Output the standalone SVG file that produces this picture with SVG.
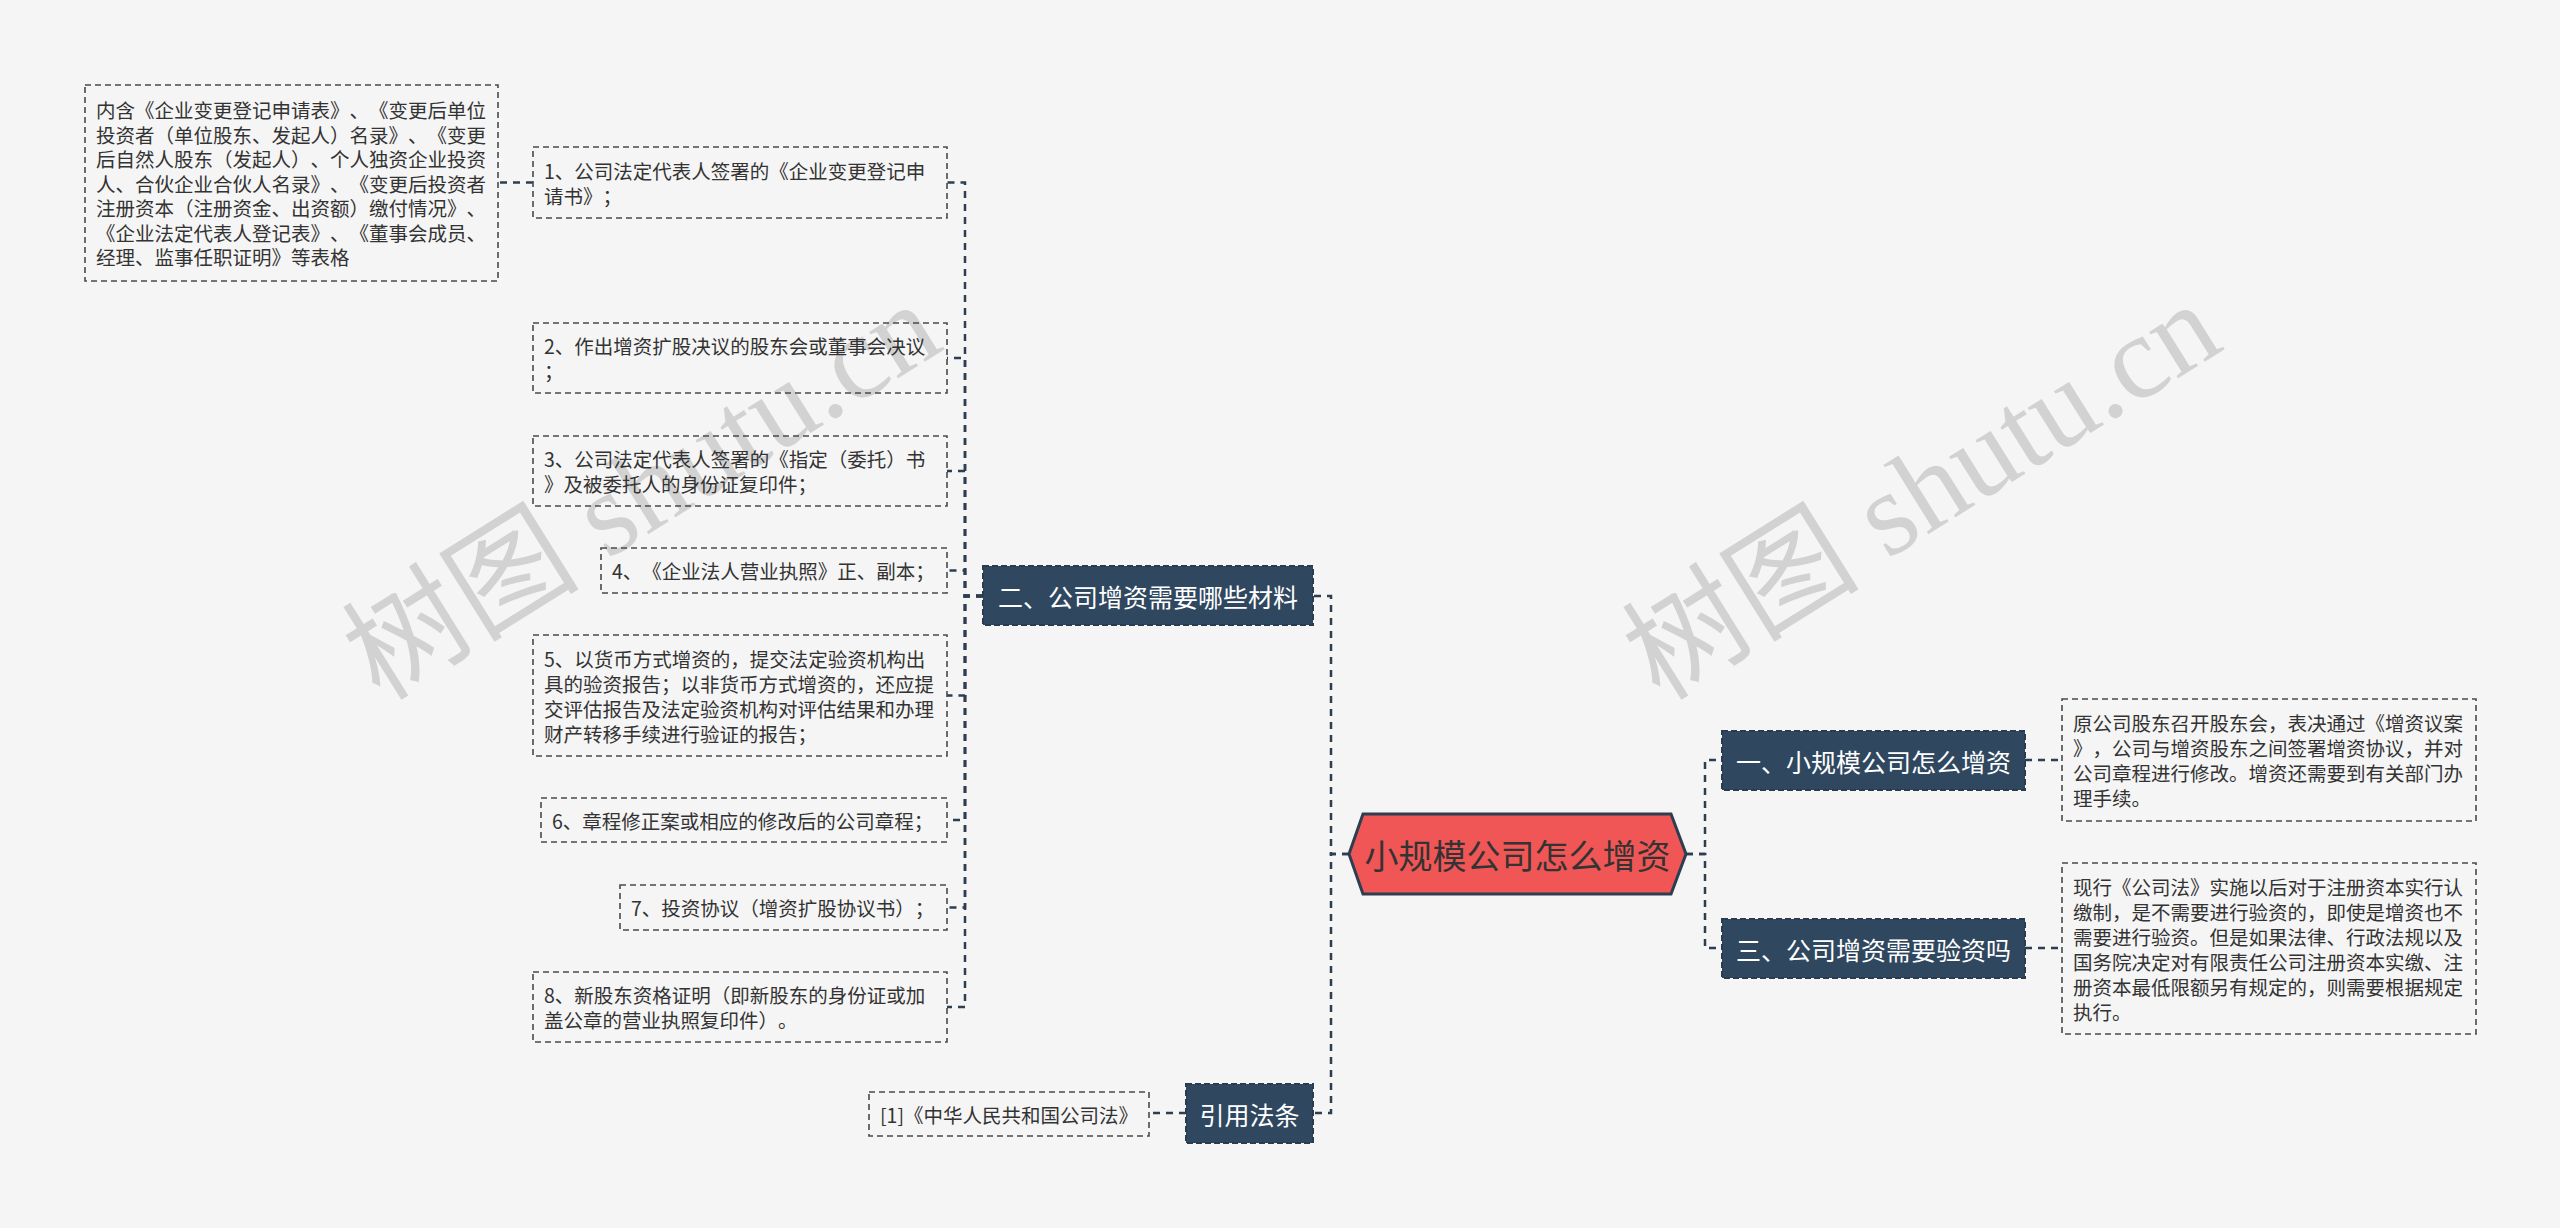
<svg xmlns="http://www.w3.org/2000/svg" width="2560" height="1228" viewBox="0 0 2560 1228">
<style>
text{text-spacing-trim:space-all;font-feature-settings:"chws" 0,"halt" 0,"palt" 0}
.wm{font-family:"Liberation Serif","Noto Sans CJK SC",serif;font-size:119px;fill:#d2d2d2}
.t{font-family:"Noto Sans CJK SC","Noto Sans",sans-serif;font-size:19.5px;fill:#333;dominant-baseline:central}
.tb{fill:none;stroke:#4a4a4a;stroke-width:1.6;stroke-dasharray:6 4}
.sb{fill:#2f4860;stroke:#2a3c4f;stroke-width:2;stroke-dasharray:6 3}
.st{font-family:"Noto Sans CJK SC","Noto Sans",sans-serif;font-size:25px;fill:#fff;text-anchor:middle;dominant-baseline:central}
.rt{font-family:"Noto Sans CJK SC","Noto Sans",sans-serif;font-size:34px;fill:#333;text-anchor:middle;dominant-baseline:central}
.c{fill:none;stroke:#2c3e50;stroke-width:2.5;stroke-dasharray:7 6}
</style>
<rect width="2560" height="1228" fill="#f5f5f5"/>
<g id="watermarks">
<text class="wm" x="380" y="702" transform="rotate(-32 380 702)">树图 shutu.cn</text>
<text class="wm" x="1660" y="702" transform="rotate(-32 1660 702)">树图 shutu.cn</text>
</g>
<g id="connectors">
<path class="c" d="M1349,854 H1331 V596 H1313"/>
<path class="c" d="M1349,854 H1331 V1113 H1313"/>
<path class="c" d="M1686,854 H1705 V760 H1722"/>
<path class="c" d="M1686,854 H1705 V948 H1722"/>
<path class="c" d="M2025,760 H2062"/>
<path class="c" d="M2025,948 H2062"/>
<path class="c" d="M1186,1113 H1149"/>
<path class="c" d="M983,596 H965 V182.5 H947"/>
<path class="c" d="M983,596 H965 V358 H947"/>
<path class="c" d="M983,596 H965 V471 H947"/>
<path class="c" d="M983,596 H965 V570.5 H947"/>
<path class="c" d="M983,596 H965 V695.5 H947"/>
<path class="c" d="M983,596 H965 V820 H947"/>
<path class="c" d="M983,596 H965 V907.5 H947"/>
<path class="c" d="M983,596 H965 V1007 H947"/>
<path class="c" d="M533,182.5 H498"/>
</g>
<g id="root">
<polygon points="1349,854 1363,814 1671,814 1686,854 1671,894 1363,894" fill="#f05656" stroke="#2c3e50" stroke-width="3"/>
<text class="rt" x="1517.5" y="854">小规模公司怎么增资</text>
</g>
<g id="n2">
<rect class="sb" x="983" y="566" width="330" height="59"/>
<text class="st" x="1148" y="595.5">二、公司增资需要哪些材料</text>
</g>
<g id="nref">
<rect class="sb" x="1186" y="1084" width="127" height="59"/>
<text class="st" x="1249.5" y="1113.5">引用法条</text>
</g>
<g id="n1">
<rect class="sb" x="1722" y="731" width="303" height="59"/>
<text class="st" x="1873.5" y="760.5">一、小规模公司怎么增资</text>
</g>
<g id="n3">
<rect class="sb" x="1722" y="919" width="303" height="59"/>
<text class="st" x="1873.5" y="948.5">三、公司增资需要验资吗</text>
</g>
<g id="r1">
<rect class="tb" x="2062" y="699" width="414" height="122"/>
<text class="t" x="2073" y="722.5">原公司股东召开股东会，表决通过《增资议案</text>
<text class="t" x="2073" y="747.5">》，公司与增资股东之间签署增资协议，并对</text>
<text class="t" x="2073" y="772.5">公司章程进行修改。增资还需要到有关部门办</text>
<text class="t" x="2073" y="797.5">理手续。</text>
</g>
<g id="r2">
<rect class="tb" x="2062" y="863" width="414" height="171"/>
<text class="t" x="2073" y="886">现行《公司法》实施以后对于注册资本实行认</text>
<text class="t" x="2073" y="911">缴制，是不需要进行验资的，即使是增资也不</text>
<text class="t" x="2073" y="936">需要进行验资。但是如果法律、行政法规以及</text>
<text class="t" x="2073" y="961">国务院决定对有限责任公司注册资本实缴、注</text>
<text class="t" x="2073" y="986">册资本最低限额另有规定的，则需要根据规定</text>
<text class="t" x="2073" y="1011">执行。</text>
</g>
<g id="ref1">
<rect class="tb" x="869" y="1092" width="280" height="44"/>
<text class="t" x="880" y="1114">[1]《中华人民共和国公司法》</text>
</g>
<g id="i1">
<rect class="tb" x="533" y="147" width="414" height="71"/>
<text class="t" x="544" y="170">1、公司法定代表人签署的《企业变更登记申</text>
<text class="t" x="544" y="195">请书》；</text>
</g>
<g id="i1d">
<rect class="tb" x="85" y="85" width="413" height="196"/>
<text class="t" x="96" y="109.5">内含《企业变更登记申请表》、《变更后单位</text>
<text class="t" x="96" y="134">投资者（单位股东、发起人）名录》、《变更</text>
<text class="t" x="96" y="158.5">后自然人股东（发起人）、个人独资企业投资</text>
<text class="t" x="96" y="183">人、合伙企业合伙人名录》、《变更后投资者</text>
<text class="t" x="96" y="207.5">注册资本（注册资金、出资额）缴付情况》、</text>
<text class="t" x="96" y="232">《企业法定代表人登记表》、《董事会成员、</text>
<text class="t" x="96" y="256.5">经理、监事任职证明》等表格</text>
</g>
<g id="i2">
<rect class="tb" x="533" y="323" width="414" height="70"/>
<text class="t" x="544" y="345.5">2、作出增资扩股决议的股东会或董事会决议</text>
<text class="t" x="544" y="370.5">；</text>
</g>
<g id="i3">
<rect class="tb" x="533" y="436" width="414" height="70"/>
<text class="t" x="544" y="458.5">3、公司法定代表人签署的《指定（委托）书</text>
<text class="t" x="544" y="483.5">》及被委托人的身份证复印件；</text>
</g>
<g id="i4">
<rect class="tb" x="601" y="548" width="346" height="45"/>
<text class="t" x="612" y="570.5">4、《企业法人营业执照》正、副本；</text>
</g>
<g id="i5">
<rect class="tb" x="533" y="635" width="414" height="121"/>
<text class="t" x="544" y="658">5、以货币方式增资的，提交法定验资机构出</text>
<text class="t" x="544" y="683">具的验资报告；以非货币方式增资的，还应提</text>
<text class="t" x="544" y="708">交评估报告及法定验资机构对评估结果和办理</text>
<text class="t" x="544" y="733">财产转移手续进行验证的报告；</text>
</g>
<g id="i6">
<rect class="tb" x="541" y="798" width="406" height="44"/>
<text class="t" x="552" y="820">6、章程修正案或相应的修改后的公司章程；</text>
</g>
<g id="i7">
<rect class="tb" x="620" y="885" width="327" height="45"/>
<text class="t" x="631" y="907.5">7、投资协议（增资扩股协议书）；</text>
</g>
<g id="i8">
<rect class="tb" x="533" y="972" width="414" height="70"/>
<text class="t" x="544" y="994.5">8、新股东资格证明（即新股东的身份证或加</text>
<text class="t" x="544" y="1019.5">盖公章的营业执照复印件）。</text>
</g>
</svg>
